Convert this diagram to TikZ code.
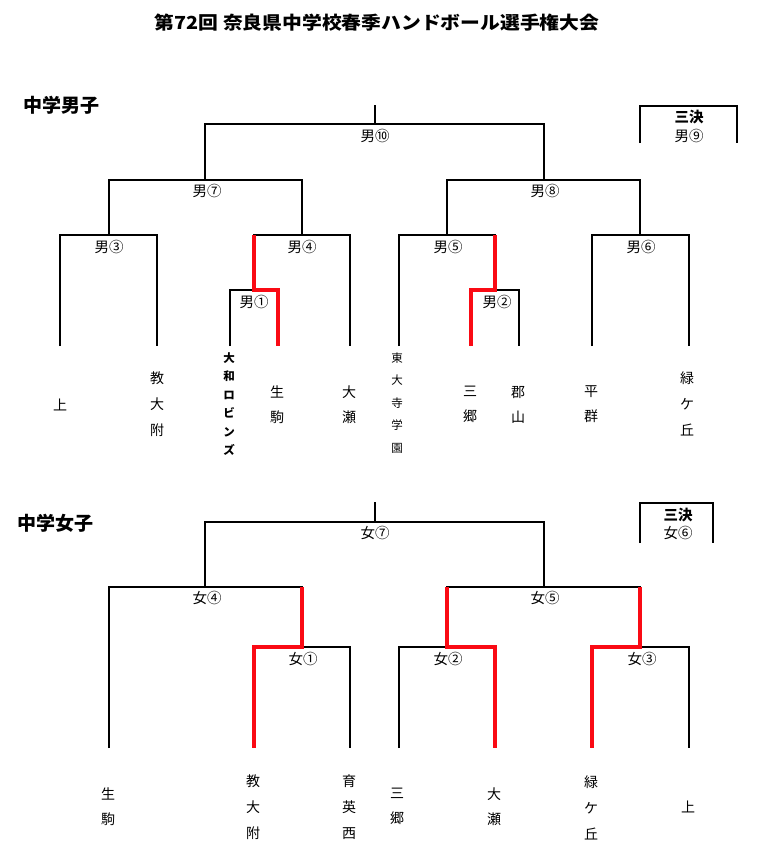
\documentclass[tikz,border=0pt]{standalone}
\usepackage{fontspec}
\setmainfont{Noto Sans CJK JP}
\definecolor{winred}{RGB}{250,10,20}
\begin{document}
\begin{tikzpicture}[x=1pt,y=-1pt,
  br/.style={draw=black,line width=1.2pt,line join=miter},
  win/.style={draw=winred,line width=3.6pt,line join=miter},
  lbl/.style={inner sep=0pt,font=\fontsize{14.5}{14.5}\selectfont},
  ttl/.style={inner sep=0pt,font=\fontsize{19}{19}\selectfont\bfseries},
  team/.style={inner sep=0pt,align=center,font=\fontsize{14}{26}\selectfont},
  teamb/.style={inner sep=0pt,align=center,font=\fontsize{14}{25}\selectfont},
  small/.style={inner sep=0pt,align=center,font=\fontsize{11.5}{22.5}\selectfont},
  smallb/.style={inner sep=0pt,align=center,font=\fontsize{11.5}{18.4}\selectfont\bfseries}]
\useasboundingbox (0,0) rectangle (768,865);
% titles
\node[inner sep=0pt,font=\fontsize{18}{18}\selectfont\bfseries] (title) at (377,23) {\scalebox{1.1}[1]{第72回 奈良県中学校春季ハンドボール選手権大会}};
\node[ttl] (boys) at (61.5,105) {中学男子};
\node[ttl] (girls) at (55.5,523) {中学女子};

% ===== Boys bracket =====
\coordinate (bt) at (375,105);
\coordinate (bm10) at (375,124);
\draw[br] (bt) -- (bm10);
\draw[br] (205,180) |- (544,124) -- (544,180);
\draw[br] (109,235) |- (302,180) -- (302,235);
\draw[br] (447,235) |- (640,180) -- (640,235);
\draw[br] (60,346) |- (157,235) -- (157,346);
\draw[br] (254,290) |- (350,235) -- (350,346);
\draw[br] (230,346) |- (278,290) -- (278,346);
\draw[br] (399,346) |- (495,235) -- (495,290);
\draw[br] (471,346) |- (519,290) -- (519,346);
\draw[br] (592,346) |- (689,235) -- (689,346);
\draw[br] (640,143) |- (737,106) -- (737,143);
\draw[win] (254,235) -- (254,290) -- (278,290) -- (278,346);
\draw[win] (495,235) -- (495,290) -- (471,290) -- (471,346);

\node[lbl] (m10) at (375,136) {男⑩};
\node[lbl] (m7) at (207,191) {男⑦};
\node[lbl] (m8) at (545,191) {男⑧};
\node[lbl] (m3) at (109,247) {男③};
\node[lbl] (m4) at (302,247) {男④};
\node[lbl] (m5) at (448,247) {男⑤};
\node[lbl] (m6) at (641,247) {男⑥};
\node[lbl] (m1) at (254,302) {男①};
\node[lbl] (m2) at (497,302) {男②};
\node[lbl,font=\fontsize{14.5}{14.5}\selectfont\bfseries] (m3k) at (689,117) {三決};
\node[lbl] (m9) at (689,136) {男⑨};

\node[team] (b1) at (60,405) {上};
\node[team] (b2) at (157,404) {教\\大\\附};
\node[smallb] (b3) at (229,404) {大\\和\\ロ\\ビ\\ン\\ズ};
\node[teamb] (b4) at (277,404.5) {生\\駒};
\node[teamb] (b5) at (349,404.5) {大\\瀬};
\node[small] (b6) at (397,403) {東\\大\\寺\\学\\園};
\node[teamb] (b7) at (470,404.5) {三\\郷};
\node[teamb] (b8) at (518,404.5) {郡\\山};
\node[teamb] (b9) at (591,404.5) {平\\群};
\node[team] (b10) at (687,403.5) {緑\\ケ\\丘};

% ===== Girls bracket =====
\coordinate (gt) at (375,502);
\coordinate (gm7) at (375,522);
\draw[br] (gt) -- (gm7);
\draw[br] (205,587) |- (544,522) -- (544,587);
\draw[br] (109,748) |- (302,587) -- (302,647);
\draw[br] (254,748) |- (350,647) -- (350,748);
\draw[br] (447,647) |- (640,587) -- (640,647);
\draw[br] (399,748) |- (495,647) -- (495,748);
\draw[br] (592,748) |- (689,647) -- (689,748);
\draw[br] (640,543) |- (713,503) -- (713,543);
\draw[win] (302,587) -- (302,647) -- (254,647) -- (254,748);
\draw[win] (447,587) -- (447,647) -- (495,647) -- (495,748);
\draw[win] (640,587) -- (640,647) -- (592,647) -- (592,748);

\node[lbl] (w7) at (375,533) {女⑦};
\node[lbl] (w4) at (207,598) {女④};
\node[lbl] (w5) at (545,598) {女⑤};
\node[lbl] (w1) at (303,659) {女①};
\node[lbl] (w2) at (448,659) {女②};
\node[lbl] (w3) at (642,659) {女③};
\node[lbl,font=\fontsize{14.5}{14.5}\selectfont\bfseries] (w3k) at (678,515) {三決};
\node[lbl] (w6) at (678,533) {女⑥};

\node[teamb] (g1) at (108,806.5) {生\\駒};
\node[team] (g2) at (253,807.5) {教\\大\\附};
\node[team] (g3) at (349,807.5) {育\\英\\西};
\node[teamb] (g4) at (397,806.5) {三\\郷};
\node[teamb] (g5) at (494,806.5) {大\\瀬};
\node[team] (g6) at (591,807.5) {緑\\ケ\\丘};
\node[team] (g7) at (688,807) {上};
\end{tikzpicture}
\end{document}
